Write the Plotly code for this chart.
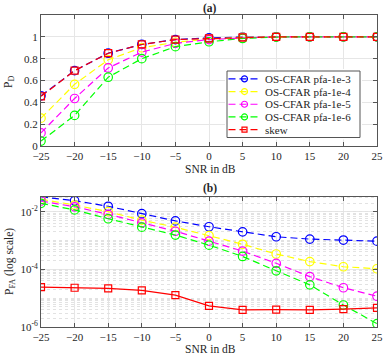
import plotly.graph_objects as go

snr = [-25, -20, -15, -10, -5, 0, 5, 10, 15, 20, 25]
names = ["OS-CFAR pfa-1e-3", "OS-CFAR pfa-1e-4", "OS-CFAR pfa-1e-5", "OS-CFAR pfa-1e-6", "skew"]
colors = ["#0000FF", "#FFFF00", "#FF00FF", "#00FF00", "#FF0000"]

pd_1e3 = [0.46, 0.69, 0.85, 0.93, 0.975, 0.99, 0.998, 1, 1, 1, 1]
pd_1e4 = [0.255, 0.565, 0.79, 0.90, 0.95, 0.98, 0.995, 1, 1, 1, 1]
pd_1e5 = [0.12, 0.435, 0.715, 0.86, 0.94, 0.975, 0.99, 1, 1, 1, 1]
pd_1e6 = [0.045, 0.28, 0.63, 0.80, 0.91, 0.955, 0.985, 0.998, 1, 1, 1]
pd_skew = [0.455, 0.69, 0.85, 0.93, 0.975, 0.985, 0.995, 1, 1, 1, 1]

pfa_1e3 = [0.033, 0.024, 0.0154, 0.0085, 0.0048, 0.0030, 0.0020, 0.00135, 0.00112, 0.00104, 0.00095]
pfa_1e4 = [0.027, 0.017, 0.010, 0.0051, 0.0029, 0.00148, 0.00074, 0.00034, 0.000186, 0.000123, 0.000105]
pfa_1e5 = [0.0235, 0.0148, 0.0081, 0.0041, 0.0021, 0.00095, 0.00043, 0.000162, 0.000056, 0.000023, 0.0000117]
pfa_1e6 = [0.0195, 0.0115, 0.0057, 0.0029, 0.00155, 0.00069, 0.00028, 0.000089, 0.000029, 0.0000058, 0.0000013]
pfa_skew = [0.000024, 0.000023, 0.000022, 0.0000187, 0.0000128, 0.0000054, 0.0000039, 0.000004, 0.0000039, 0.0000042, 0.0000046]

pd_tickvals = [0, 0.2, 0.4, 0.6, 0.8, 1]
pd_ticktext = ["0", "0.2", "0.4", "0.6", "0.8", "1"]
pfa_tickvals = [1e-6, 1e-4, 1e-2]
pfa_ticktext = ["10<sup>-6</sup>", "10<sup>-4</sup>", "10<sup>-2</sup>"]

pd_series = [pd_1e3, pd_1e4, pd_1e5, pd_1e6, pd_skew]
pfa_series = [pfa_1e3, pfa_1e4, pfa_1e5, pfa_1e6, pfa_skew]

FONT = "Liberation Serif, Times New Roman, serif"
TXT = "#262626"
AX = "#555555"
DASH = "7px,4px"
W, H = 387, 357
L, R, T, B = 41, 10, 15, 30
pw, ph = W - L - R, H - T - B
def px(p): return (p - L) / pw
def py(p): return (H - B - p) / ph

fig = go.Figure()

def style(nm, c, solid=False):
    is_skew = nm == "skew"
    return dict(
        line=dict(color=c, width=1.2, dash="solid" if solid else DASH),
        marker=dict(symbol="square-open" if is_skew else "circle-open",
                    size=7 if is_skew else 8.5, color=c, line=dict(width=1.2, color=c)))

for nm, c, ys in zip(names, colors, pd_series):
    fig.add_trace(go.Scatter(x=snr, y=ys, name=nm, mode="lines+markers",
                             xaxis="x", yaxis="y", showlegend=False, **style(nm, c)))

for nm, c, ys in zip(names, colors, pfa_series):
    fig.add_trace(go.Scatter(x=snr, y=ys, name=nm, mode="lines+markers",
                             xaxis="x2", yaxis="y2", showlegend=False,
                             **style(nm, c, solid=(nm == "skew"))))

# invisible carrier for the minor-grid overlay axis
fig.add_trace(go.Scatter(x=snr, y=pfa_skew, mode="lines", line=dict(width=0),
                         opacity=0, xaxis="x2", yaxis="y4", showlegend=False, hoverinfo="skip"))

# manual legend (in a hidden pixel-unit axis)
LG_L, LG_T, LG_R, LG_B = 227, 71, 360, 137.5
bw, bh = LG_R - LG_L, LG_B - LG_T
fig.add_trace(go.Scatter(x=[0, bw, bw, 0, 0], y=[0, 0, bh, bh, 0], mode="lines",
                         fill="toself", fillcolor="white", line=dict(color=AX, width=1),
                         xaxis="x3", yaxis="y3", showlegend=False, hoverinfo="skip"))
row_h = (bh - 3) / 5
annotations = []
for i, (nm, c) in enumerate(zip(names, colors)):
    yc = 1.5 + row_h * (i + 0.5)
    st = style(nm, c)
    st["marker"]["size"] = 6 if nm != "skew" else 5
    fig.add_trace(go.Scatter(x=[1.5, 17.5, 33.5], y=[yc, yc, yc], mode="lines",
                             line=st["line"], xaxis="x3", yaxis="y3",
                             showlegend=False, hoverinfo="skip"))
    fig.add_trace(go.Scatter(x=[17.5], y=[yc], mode="markers", marker=st["marker"],
                             xaxis="x3", yaxis="y3", showlegend=False, hoverinfo="skip"))
    annotations.append(dict(text=nm, x=35.5, y=yc, xref="x3", yref="y3", xanchor="left",
                            yanchor="middle", showarrow=False,
                            font=dict(family=FONT, size=11, color=TXT)))

axis_common = dict(showline=True, linecolor=AX, linewidth=1, mirror="ticks",
                   ticks="inside", ticklen=4, tickcolor=AX, automargin=False,
                   gridcolor="#e6e6e6", gridwidth=1, zeroline=False,
                   tickfont=dict(family=FONT, size=11, color=TXT))

fig.update_layout(
    width=W, height=H,
    margin=dict(l=L, r=R, t=T, b=B),
    paper_bgcolor="white", plot_bgcolor="white",
    font=dict(family=FONT, size=11, color=TXT),
    showlegend=False,
    xaxis=dict(domain=[0, 1], range=[-25, 25], tickvals=snr, anchor="y", **axis_common),
    yaxis=dict(domain=[py(146), 1.0], range=[0, 1.2], tickvals=pd_tickvals,
               ticktext=pd_ticktext, anchor="x", **axis_common),
    xaxis2=dict(domain=[0, 1], range=[-25, 25], tickvals=snr, anchor="y2", **axis_common),
    yaxis2=dict(domain=[0, py(196.7)], type="log", range=[-6, -1.48],
                tickvals=pfa_tickvals, ticktext=pfa_ticktext, anchor="x2", **axis_common),
    yaxis4=dict(type="log", range=[-6, -1.48], overlaying="y2", anchor="x2", dtick="D1",
                showgrid=True, gridcolor="#e2e2e2", griddash="dot", gridwidth=1,
                showticklabels=False, ticks="", showline=False, zeroline=False, automargin=False),
    xaxis3=dict(domain=[px(LG_L - 2), px(LG_R + 2)], range=[-2, bw + 2], visible=False,
                anchor="y3", fixedrange=True),
    yaxis3=dict(domain=[py(LG_B + 2), py(LG_T - 2)], range=[bh + 2, -2], visible=False,
                anchor="x3", fixedrange=True),
)

labels = [("<b>(a)</b>", 210, 8, 0), ("<b>(b)</b>", 210, 188, 0),
          ("SNR in dB", 210, 169, 0), ("SNR in dB", 210, 349, 0),
          ("P<sub>D</sub>", 9, 82, -90), ("P<sub>FA</sub> (log scale)", 10, 262, -90)]
for text, x, y, ang in labels:
    annotations.append(dict(text=text, x=px(x), y=py(y), xref="paper", yref="paper",
                            xanchor="center", yanchor="middle", showarrow=False,
                            textangle=ang, font=dict(family=FONT, size=11.5, color=TXT)))
fig.update_layout(annotations=annotations)

fig.write_html("out.html", config={"displayModeBar": False},
               post_script="document.body.style.margin='0';document.body.style.overflow='hidden';")
